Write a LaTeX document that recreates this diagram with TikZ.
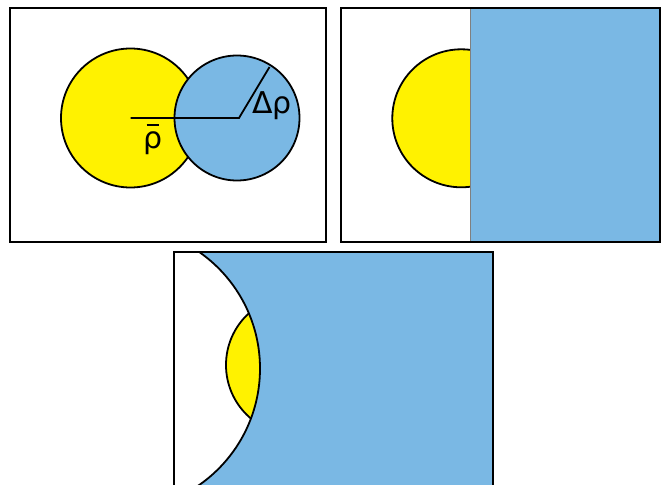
\documentclass[tikz,border=0pt]{standalone}
\usepackage{fontspec}
\setmainfont{DejaVu Sans}
\definecolor{skyb}{RGB}{122,184,228}
\begin{document}
\begin{tikzpicture}[x=1pt,y=-1pt,
  outl/.style={draw=black,line width=1.8pt},
  frame/.style={draw=black,line width=2.2pt},
  lbl/.style={inner sep=0pt,font=\fontsize{30}{34}\selectfont}]
\useasboundingbox (0,0) rectangle (665,485);
% panel 1
\draw[outl,fill=yellow] (130.5,118) circle (69.5);
\draw[outl,fill=skyb] (237,118) circle (62.5);
\coordinate (c1) at (130.7,118);
\coordinate (c2) at (239,118);
\coordinate (r2) at (269.5,67);
\draw[outl,line join=miter] (c1) -- (c2) -- (r2);
\node[lbl,anchor=base] (rhobar) at (153,148.5) {\ooalign{ρ\cr\hidewidth\rule[0.74em]{0.42em}{0.07em}\hidewidth\cr}};
\node[lbl] (drho) at (272,106) {Δρ};
\draw[frame] (10,8) rectangle (326,242);
% panel 2
\draw[outl,fill=yellow] (461.3,118.3) circle (69);
\fill[skyb] (470,8) rectangle (660,242);
\draw[gray,line width=0.8pt] (470,8) -- (470,242);
\draw[frame] (341,8) rectangle (660,242);
% panel 3
\begin{scope}
  \clip (174,252) rectangle (493,488);
  \fill[skyb] (174,252) rectangle (493,488);
  \fill[white] (118,368.5) circle (142);
  \begin{scope}
    \clip (118,368.5) circle (142);
    \draw[outl,fill=yellow] (296,365) circle (70);
  \end{scope}
  \draw[outl] (118,368.5) circle (142);
\end{scope}
\draw[frame] (174,252) rectangle (493,488);
\end{tikzpicture}
\end{document}
